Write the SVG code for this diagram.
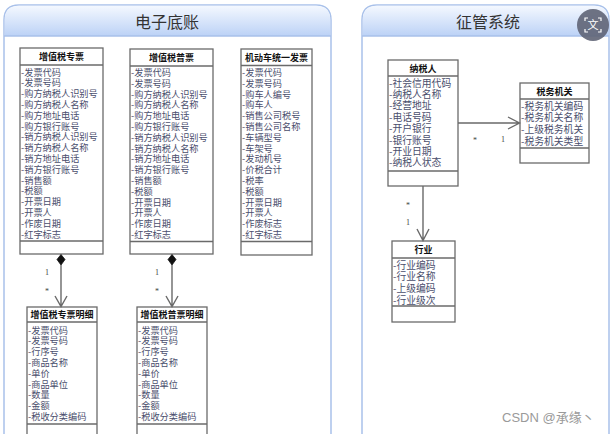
<svg xmlns="http://www.w3.org/2000/svg" width="611" height="434" viewBox="0 0 611 434">
<defs>
<linearGradient id="hdr" x1="0" y1="0" x2="0" y2="1">
<stop offset="0" stop-color="#f4f8ff"/>
<stop offset="1" stop-color="#bcd2f6"/>
</linearGradient>
<style>
.panel{fill:#fff;stroke:#a9c1ea;stroke-width:1.5}
.ptitle{font-family:"Noto Sans CJK SC",sans-serif;font-size:16px;fill:#333;text-anchor:middle}
.box{fill:#fff;stroke:#6a6a6a;stroke-width:1.3}
.sep{stroke:#6a6a6a;stroke-width:1.3}
.hd{font-family:"Noto Sans CJK SC",sans-serif;font-size:9px;font-weight:bold;fill:#111;text-anchor:middle}
.at{font-family:"Noto Sans CJK SC",sans-serif;font-size:9.2px;fill:#4a4e6c}
.at2{font-family:"Noto Sans CJK SC",sans-serif;font-size:9.8px;fill:#4a4e6c}
.ln{stroke:#6a6a6a;stroke-width:1.4;fill:none}
.mul{font-family:"Liberation Serif",serif;font-size:8px;fill:#444;text-anchor:middle}
</style>
</defs>
<rect width="611" height="434" fill="#fff"/>
<!-- panels -->
<g id="panel-left">
<path class="panel" d="M4,436 V20 Q4,5 19,5 H316 Q331,5 331,20 V436 Z"/>
<path d="M4.75,36 V20 Q4.75,5.75 19,5.75 H316 Q330.25,5.75 330.25,20 V36 Z" fill="url(#hdr)"/>
<line x1="4" y1="36" x2="331" y2="36" stroke="#a9c1ea" stroke-width="1.5"/>
<text class="ptitle" x="167" y="28">电子底账</text>
</g>
<g id="panel-right">
<path class="panel" d="M362,436 V20 Q362,5 377,5 H594 Q609,5 609,20 V436 Z"/>
<path d="M362.75,36 V20 Q362.75,5.75 377,5.75 H594 Q608.25,5.75 608.25,20 V36 Z" fill="url(#hdr)"/>
<line x1="362" y1="36" x2="609" y2="36" stroke="#a9c1ea" stroke-width="1.5"/>
<text class="ptitle" x="488" y="28">征管系统</text>
</g>

<!-- class 1 -->
<g id="zhuanpiao">
<rect class="box" x="20" y="48" width="83" height="206"/>
<line class="sep" x1="20" y1="65" x2="103" y2="65"/>
<line class="sep" x1="20" y1="241" x2="103" y2="241"/>
<text class="hd" x="61.5" y="60">增值税专票</text>
<g class="at">
<text x="21" y="75.5">-发票代码</text>
<text x="21" y="86.3">-发票号码</text>
<text x="21" y="97.1">-购方纳税人识别号</text>
<text x="21" y="107.9">-购方纳税人名称</text>
<text x="21" y="118.7">-购方地址电话</text>
<text x="21" y="129.5">-购方银行账号</text>
<text x="21" y="140.3">-销方纳税人识别号</text>
<text x="21" y="151.1">-销方纳税人名称</text>
<text x="21" y="161.9">-销方地址电话</text>
<text x="21" y="172.7">-销方银行账号</text>
<text x="21" y="183.5">-销售额</text>
<text x="21" y="194.3">-税额</text>
<text x="21" y="205.1">-开票日期</text>
<text x="21" y="215.9">-开票人</text>
<text x="21" y="226.7">-作废日期</text>
<text x="21" y="237.5">-红字标志</text>
</g>
</g>

<!-- class 2 -->
<g id="pupiao">
<rect class="box" x="130" y="49" width="83" height="205"/>
<line class="sep" x1="130" y1="66" x2="213" y2="66"/>
<line class="sep" x1="130" y1="241.5" x2="213" y2="241.5"/>
<text class="hd" x="171.5" y="61">增值税普票</text>
<g class="at">
<text x="131" y="76">-发票代码</text>
<text x="131" y="86.8">-发票号码</text>
<text x="131" y="97.6">-购方纳税人识别号</text>
<text x="131" y="108.4">-购方纳税人名称</text>
<text x="131" y="119.2">-购方地址电话</text>
<text x="131" y="130">-购方银行账号</text>
<text x="131" y="140.8">-销方纳税人识别号</text>
<text x="131" y="151.6">-销方纳税人名称</text>
<text x="131" y="162.4">-销方地址电话</text>
<text x="131" y="173.2">-销方银行账号</text>
<text x="131" y="184">-销售额</text>
<text x="131" y="194.8">-税额</text>
<text x="131" y="205.6">-开票日期</text>
<text x="131" y="216.4">-开票人</text>
<text x="131" y="227.2">-作废日期</text>
<text x="131" y="238">-红字标志</text>
</g>
</g>

<!-- class 3 -->
<g id="jidongche">
<rect class="box" x="241" y="49" width="71" height="206"/>
<line class="sep" x1="241" y1="65.5" x2="312" y2="65.5"/>
<line class="sep" x1="241" y1="241.5" x2="312" y2="241.5"/>
<text class="hd" x="276.5" y="60.5">机动车统一发票</text>
<g class="at">
<text x="242" y="76">-发票代码</text>
<text x="242" y="86.8">-发票号码</text>
<text x="242" y="97.6">-购车人编号</text>
<text x="242" y="108.4">-购车人</text>
<text x="242" y="119.2">-销售公司税号</text>
<text x="242" y="130">-销售公司名称</text>
<text x="242" y="140.8">-车辆型号</text>
<text x="242" y="151.6">-车架号</text>
<text x="242" y="162.4">-发动机号</text>
<text x="242" y="173.2">-价税合计</text>
<text x="242" y="184">-税率</text>
<text x="242" y="194.8">-税额</text>
<text x="242" y="205.6">-开票日期</text>
<text x="242" y="216.4">-开票人</text>
<text x="242" y="227.2">-作废标志</text>
<text x="242" y="238">-红字标志</text>
</g>
</g>

<!-- class 4 -->
<g id="zhuanpiao-mingxi">
<rect class="box" x="27" y="307" width="70" height="135"/>
<line class="sep" x1="27" y1="322" x2="97" y2="322"/>
<line class="sep" x1="27" y1="424" x2="97" y2="424"/>
<text class="hd" x="62" y="317.5">增值税专票明细</text>
<g class="at">
<text x="28" y="333.5">-发票代码</text>
<text x="28" y="344.3">-发票号码</text>
<text x="28" y="355.1">-行序号</text>
<text x="28" y="365.9">-商品名称</text>
<text x="28" y="376.7">-单价</text>
<text x="28" y="387.5">-商品单位</text>
<text x="28" y="398.3">-数量</text>
<text x="28" y="409.1">-金额</text>
<text x="28" y="419.9">-税收分类编码</text>
</g>
</g>

<!-- class 5 -->
<g id="pupiao-mingxi">
<rect class="box" x="137" y="307" width="70" height="135"/>
<line class="sep" x1="137" y1="322" x2="207" y2="322"/>
<line class="sep" x1="137" y1="424" x2="207" y2="424"/>
<text class="hd" x="172" y="317.5">增值税普票明细</text>
<g class="at">
<text x="138" y="333.5">-发票代码</text>
<text x="138" y="344.3">-发票号码</text>
<text x="138" y="355.1">-行序号</text>
<text x="138" y="365.9">-商品名称</text>
<text x="138" y="376.7">-单价</text>
<text x="138" y="387.5">-商品单位</text>
<text x="138" y="398.3">-数量</text>
<text x="138" y="409.1">-金额</text>
<text x="138" y="419.9">-税收分类编码</text>
</g>
</g>

<!-- 纳税人 -->
<g id="nashuiren">
<rect class="box" x="388" y="60" width="70" height="126"/>
<line class="sep" x1="388" y1="76" x2="458" y2="76"/>
<line class="sep" x1="388" y1="171" x2="458" y2="171"/>
<text class="hd" x="423" y="71.5">纳税人</text>
<g class="at2">
<text x="389" y="86.5">-社会信用代码</text>
<text x="389" y="97.9">-纳税人名称</text>
<text x="389" y="109.3">-经营地址</text>
<text x="389" y="120.7">-电话号码</text>
<text x="389" y="132.1">-开户银行</text>
<text x="389" y="143.5">-银行账号</text>
<text x="389" y="154.9">-开业日期</text>
<text x="389" y="166.3">-纳税人状态</text>
</g>
</g>

<!-- 税务机关 -->
<g id="shuiwujiguan">
<rect class="box" x="520" y="83" width="69" height="80"/>
<line class="sep" x1="520" y1="99" x2="589" y2="99"/>
<line class="sep" x1="520" y1="148" x2="589" y2="148"/>
<text class="hd" x="554.5" y="94.5">税务机关</text>
<g class="at2">
<text x="521" y="109.5">-税务机关编码</text>
<text x="521" y="121.4">-税务机关名称</text>
<text x="521" y="133.3">-上级税务机关</text>
<text x="521" y="145.2">-税务机关类型</text>
</g>
</g>

<!-- 行业 -->
<g id="hangye">
<rect class="box" x="392" y="241" width="63" height="81"/>
<line class="sep" x1="392" y1="258" x2="455" y2="258"/>
<line class="sep" x1="392" y1="306" x2="455" y2="306"/>
<text class="hd" x="423.5" y="253">行业</text>
<g class="at2">
<text x="393" y="268.5">-行业编码</text>
<text x="393" y="280.2">-行业名称</text>
<text x="393" y="291.9">-上级编码</text>
<text x="393" y="303.6">-行业级次</text>
</g>
</g>

<!-- connectors -->
<g id="connectors">
<path d="M61,254.5 L65,259.5 L61,265 L57,259.5 Z" fill="#111" stroke="#111" stroke-width="0.8"/>
<path class="ln" d="M61,265 V306.5 M55,296 L61,306.5 L67,296"/>
<text class="mul" x="47" y="275">1</text>
<text class="mul" x="47" y="294">*</text>
<path d="M172,254.5 L176,259.5 L172,265 L168,259.5 Z" fill="#111" stroke="#111" stroke-width="0.8"/>
<path class="ln" d="M172,265 V306.5 M166,296 L172,306.5 L178,296"/>
<text class="mul" x="157" y="275">1</text>
<text class="mul" x="157" y="294">*</text>
<path class="ln" d="M458,123 H519.5 M508,117 L519.5,123 L508,129"/>
<text class="mul" x="475" y="143">*</text>
<text class="mul" x="503" y="142">1</text>
<path class="ln" d="M423,186 V240.5 M417,229 L423,240.5 L429,229"/>
<text class="mul" x="408" y="208">*</text>
<text class="mul" x="408" y="225">1</text>
</g>

<!-- overlays -->
<g id="translate-icon">
<circle cx="593" cy="25" r="16" fill="#5f6475" opacity="0.9"/>
<path d="M585,21 V18 H588 M598,18 H601 V21 M601,29 V32 H598 M588,32 H585 V29" stroke="#fff" stroke-width="1.2" fill="none"/>
<text x="593" y="29" font-family="Noto Sans CJK SC, sans-serif" font-size="11" fill="#fff" text-anchor="middle">文</text>
</g>
<text id="watermark" x="502" y="422" font-family="Liberation Sans, Noto Sans CJK SC, sans-serif" font-size="13" fill="#9a9a9a">CSDN @承缘丶</text>
</svg>
